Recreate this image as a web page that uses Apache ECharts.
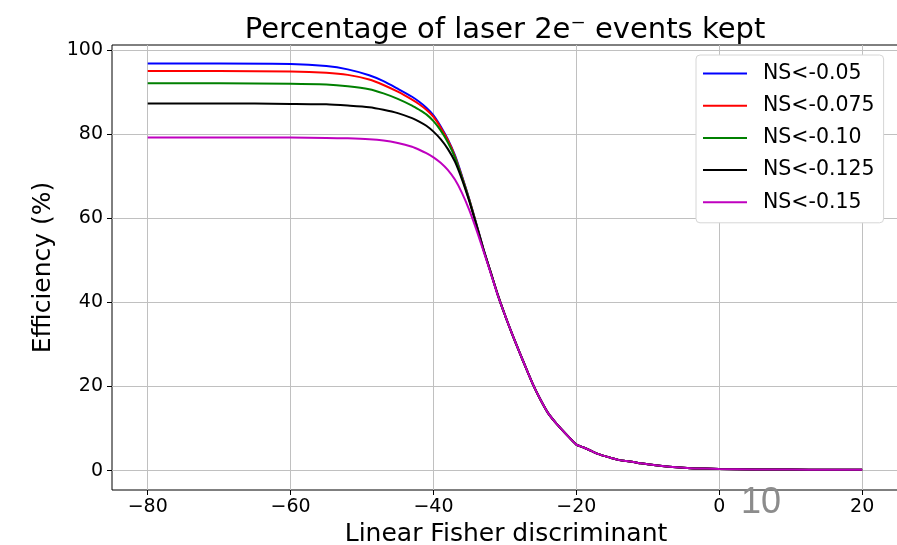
<!DOCTYPE html>
<html>
<head>
<meta charset="utf-8">
<script src="https://cdn.jsdelivr.net/npm/echarts@6/dist/echarts.min.js"></script>
<style>html,body{margin:0;padding:0;background:#fff}#c{width:897px;height:545px}</style>
</head>
<body>
<div id="c"></div>
<script>
const xs = [-80,-70,-60,-55,-52,-49,-47,-45,-43,-42,-41,-40,-39,-38,-37,-36,-35,-34,-33,-32,-31,
  -30,-29,-28,-27,-26,-25,-24,-23,-22,-21,-20,-19,-18,-17,-16,-15,-14,-13,-12,-11,-10,-8,-6,-4,-2,0,5,10,15,20];
const tail = [37.0,32.5,28.3,24.2,20.2,16.8,13.8,11.6,9.7,7.9,6.2,5.5,4.75,4.0,3.45,2.95,2.5,2.3,2.05,1.75,1.5,1.1,0.8,0.6,0.5,0.4,0.3,0.25,0.2,0.2];
const blueHead    = [96.8,96.8,96.7,96.2,95.4,94.0,92.6,90.8,88.9,87.7,86.3,84.5,81.9,78.8,75.0,70.0,64.6,58.7,52.7,47.2,41.8];
const redHead     = [95.0,95.0,94.9,94.6,94.1,93.0,91.7,90.1,88.2,87.1,85.8,84.1,81.6,78.6,74.8,69.8,64.5,58.6,52.6,47.2,41.8];
const greenHead   = [92.1,92.1,92.0,91.8,91.4,90.7,89.7,88.4,86.8,85.8,84.7,83.1,80.9,78.1,74.5,69.6,64.4,58.5,52.6,47.2,41.8];
const blackHead   = [87.3,87.3,87.2,87.1,86.8,86.4,85.8,85.0,83.8,83.0,82.0,80.6,78.8,76.5,73.5,69.2,64.1,58.4,52.5,47.2,41.8];
const magentaHead = [79.2,79.2,79.2,79.1,79.0,78.8,78.5,77.9,77.0,76.3,75.5,74.5,73.2,71.5,69.2,66.0,62.0,57.3,52.2,47.0,41.7];
const seriesNames = ['NS<-0.05','NS<-0.075','NS<-0.10','NS<-0.125','NS<-0.15'];
const seriesColors = ['#0000ff','#ff0000','#008000','#000000','#bf00bf'];
const heads = [blueHead, redHead, greenHead, blackHead, magentaHead];
const xTicks = [-80,-60,-40,-20,0,20];
const yTicks = [0,20,40,60,80,100];
const titleText = 'Percentage of laser 2e\u207B events kept';
const xName = 'Linear Fisher discriminant';
const yName = 'Efficiency (%)';
const pageNumber = '10';

const FONT = 'DejaVu Sans';
const fmt = v => String(v).replace('-', '\u2212');
const chart = echarts.init(document.getElementById('c'), null, {renderer:'canvas'});
chart.setOption({
  animation: false,
  backgroundColor: '#ffffff',
  title: {
    text: titleText, left: 505, top: 16, textAlign: 'center', padding: 0,
    textStyle: {fontFamily: FONT, fontSize: 29, fontWeight: 'normal', color: '#000'}
  },
  grid: {left: 112, top: 45, width: 788, height: 445, outerBoundsMode: 'none', containLabel: false,
    show: true, borderColor: '#000', borderWidth: 1, backgroundColor: 'transparent'},
  legend: {
    left: 696, top: 55, orient: 'vertical', icon: 'rect', itemWidth: 44, itemHeight: 2, itemGap: 11.2,
    padding: [8, 9, 10, 7], backgroundColor: '#fff', borderColor: '#d6d6d6', borderWidth: 1, borderRadius: 4,
    textStyle: {fontFamily: FONT, fontSize: 20.5, color: '#000', lineHeight: 21, padding: [0,0,0,11]},
    data: seriesNames
  },
  xAxis: {
    type: 'value', min: -85, max: 25.3,
    name: xName, nameLocation: 'middle', nameGap: 30,
    nameTextStyle: {fontFamily: FONT, fontSize: 25, color: '#000'},
    axisLine: {show: false, onZero: false},
    axisTick: {show: true, length: 5, customValues: xTicks, lineStyle: {color: '#000', width: 1}},
    axisLabel: {customValues: xTicks, formatter: fmt, fontFamily: FONT, fontSize: 19, color: '#000', margin: 8},
    splitLine: {show: true, lineStyle: {color: '#c0c0c0', width: 1}}
  },
  yAxis: {
    type: 'value', min: -4.6, max: 101.2,
    name: yName, nameLocation: 'middle', nameGap: 54, nameRotate: 90,
    nameTextStyle: {fontFamily: FONT, fontSize: 25, color: '#000'},
    axisLine: {show: false, onZero: false},
    axisTick: {show: true, length: 5, customValues: yTicks, lineStyle: {color: '#000', width: 1}},
    axisLabel: {customValues: yTicks, formatter: fmt, fontFamily: FONT, fontSize: 19, color: '#000', margin: 9},
    splitLine: {show: true, lineStyle: {color: '#c0c0c0', width: 1}}
  },
  series: seriesNames.map((n, i) => ({
    name: n, type: 'line', symbol: 'none', smooth: 0.25,
    lineStyle: {color: seriesColors[i], width: 2}, itemStyle: {color: seriesColors[i]},
    data: xs.map((x, j) => [x, j < heads[i].length ? heads[i][j] : tail[j - heads[i].length]])
  })),
  graphic: [{
    type: 'text', left: 741, top: 485, z: 100,
    style: {text: pageNumber, font: '36px "Liberation Sans"', fill: '#8c8c8c'}
  }]
});
</script>
</body>
</html>
